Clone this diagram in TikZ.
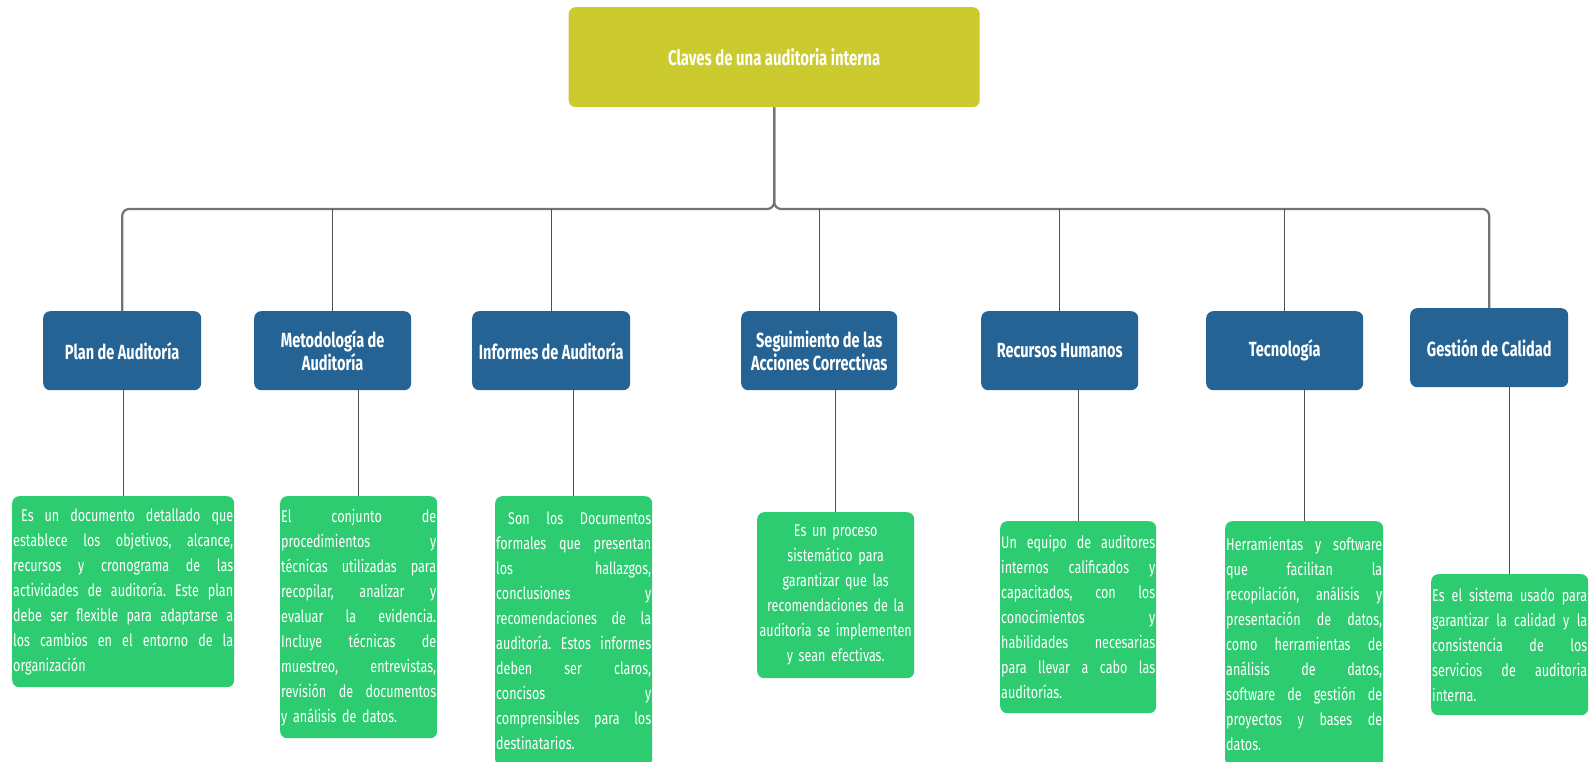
\documentclass[tikz,border=0pt]{standalone}
\usepackage{fontspec}
\setmainfont{Fira Sans}
\newfontfamily\headfont[FakeStretch=0.71]{Fira Sans}
\newfontfamily\bodyfont[FakeStretch=0.74]{Fira Sans}
\definecolor{rootc}{RGB}{203,202,47}
\definecolor{bluec}{RGB}{36,99,148}
\definecolor{greenc}{RGB}{46,204,113}
\definecolor{busc}{RGB}{115,115,115}
\definecolor{dropc}{RGB}{80,80,80}
\frenchspacing
\newcommand\jl[1]{\hbox to \hsize{\spaceskip=0.26em plus 1fil\relax\xspaceskip=\spaceskip #1}\par}
\newcommand\lastl[1]{\hbox to \hsize{#1\hfil}\par}
\begin{document}
\begin{tikzpicture}[x=1pt,y=-1pt,
  rootbox/.style={fill=rootc, rounded corners=7pt, anchor=north west, inner sep=0pt,
    minimum width=411pt, minimum height=100pt, text=white,
    font=\headfont\bfseries\fontsize{21}{23}\selectfont},
  topic/.style={fill=bluec, rounded corners=7pt, anchor=north west, inner sep=0pt,
    minimum width=157pt, minimum height=79pt, text=white, align=center,
    font=\headfont\bfseries\fontsize{20.5}{23}\selectfont},
  detail/.style={fill=greenc, rounded corners=7pt, anchor=north west, inner xsep=1pt,
    inner ysep=0pt, text=white, align=left,
    font=\bodyfont\fontsize{17}{25}\selectfont},
  bus/.style={draw=busc, line width=2.2pt, rounded corners=7pt},
  drop/.style={draw=dropc, line width=1.3pt}
]
\useasboundingbox (0,0) rectangle (1589,762);

% root
\node[rootbox] (root) at (568.5,7) {Claves de una auditoria interna};

% topics
\node[topic, minimum width=158pt] (plan) at (43,311) {Plan de Auditoría};
\node[topic] (metod) at (254,311) {Metodología de\\Auditoría};
\node[topic, minimum width=158pt] (inf) at (472,311) {Informes de Auditoría};
\node[topic, minimum width=156pt] (seg) at (741,311) {Seguimiento de las\\Acciones Correctivas};
\node[topic] (rh) at (981,311) {Recursos Humanos};
\node[topic] (tec) at (1206,311) {Tecnología};
\node[topic, minimum width=158pt] (gc) at (1410,308) {Gestión de Calidad};

% details
\node[detail, text width=220pt, minimum height=191pt] (g1) at (12,496) {%
\jl{\hspace*{8pt}Es un documento detallado que}%
\jl{establece los objetivos, alcance,}%
\jl{recursos y cronograma de las}%
\jl{actividades de auditoría. Este plan}%
\jl{debe ser flexible para adaptarse a}%
\jl{los cambios en el entorno de la}%
\lastl{organización}};

\node[detail, text width=155pt, minimum height=242pt] (g2) at (280,496) {%
\jl{El conjunto de}%
\jl{procedimientos y}%
\jl{técnicas utilizadas para}%
\jl{recopilar, analizar y}%
\jl{evaluar la evidencia.}%
\jl{Incluye técnicas de}%
\jl{muestreo, entrevistas,}%
\jl{revisión de documentos}%
\lastl{y análisis de datos.}};

\node[detail, text width=155pt, minimum height=270pt] (g3) at (495,496) {%
\jl{\hspace*{12pt}Son los Documentos}%
\jl{formales que presentan}%
\jl{los hallazgos,}%
\jl{conclusiones y}%
\jl{recomendaciones de la}%
\jl{auditoría. Estos informes}%
\jl{deben ser claros,}%
\jl{concisos y}%
\jl{comprensibles para los}%
\lastl{destinatarios.}};

\node[detail, text width=155pt, minimum height=166pt, align=center] (g4) at (757,512) {%
Es un proceso\\sistemático para\\garantizar que las\\recomendaciones de la\\auditoria se implementen\\y sean efectivas.};

\node[detail, text width=154pt, minimum height=192pt] (g5) at (1000,521) {%
\jl{Un equipo de auditores}%
\jl{internos calificados y}%
\jl{capacitados, con los}%
\jl{conocimientos y}%
\jl{habilidades necesarias}%
\jl{para llevar a cabo las}%
\lastl{auditorías.}};

\node[detail, text width=156pt, minimum height=245pt] (g6) at (1225,521) {%
\jl{Herramientas y software}%
\jl{que facilitan la}%
\jl{recopilación, análisis y}%
\jl{presentación de datos,}%
\jl{como herramientas de}%
\jl{análisis de datos,}%
\jl{software de gestión de}%
\jl{proyectos y bases de}%
\lastl{datos.}};

\node[detail, text width=155pt, minimum height=141pt] (g7) at (1431,574) {%
\jl{Es el sistema usado para}%
\jl{garantizar la calidad y la}%
\jl{consistencia de los}%
\jl{servicios de auditoria}%
\lastl{interna.}};

% bus
\coordinate (bj) at (774,209);
\draw[bus] (root.south) -- (root.south |- bj) -| (plan.north);
\draw[bus] (root.south) -- (root.south |- bj) -| (gc.north);

% drops to topics
\foreach \n in {metod,inf,seg,rh,tec}
  \draw[drop] (\n.north) -- (\n.north |- bj);

% drops to details
\draw[drop] (g1.north) -- (g1.north |- plan.south);
\draw[drop] (g2.north) -- (g2.north |- metod.south);
\draw[drop] (g3.north) -- (g3.north |- inf.south);
\draw[drop] (g4.north) -- (g4.north |- seg.south);
\draw[drop] (g5.north) -- (g5.north |- rh.south);
\draw[drop] (g6.north) -- (g6.north |- tec.south);
\draw[drop] (g7.north) -- (g7.north |- gc.south);
\end{tikzpicture}
\end{document}
